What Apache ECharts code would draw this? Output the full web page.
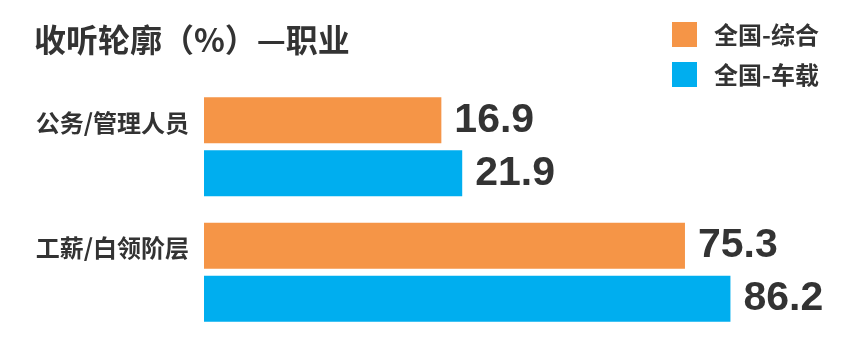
<!DOCTYPE html>
<html>
<head>
<meta charset="utf-8">
<script src="https://cdn.jsdelivr.net/npm/echarts@6/dist/echarts.min.js"></script>
<style>
html,body{margin:0;padding:0;background:#fff;}
#c{width:852px;height:337px;}
</style>
</head>
<body>
<div id="c"></div>
<script>
var titleText = '收听轮廓（%）—职业';
var categories = ['公务/管理人员', '工薪/白领阶层'];
var seriesNames = ['全国-综合', '全国-车载'];
var valuesZonghe = [16.9, 75.3];
var valuesChezai = [21.9, 86.2];
var colors = ['#F59547', '#00AEEF'];

var chart = echarts.init(document.getElementById('c'), null, {renderer: 'canvas'});
var labelStyle = {
  show: true,
  position: 'right',
  distance: 13,
  fontFamily: '"Liberation Sans", Arial, sans-serif',
  fontWeight: 'bold',
  fontSize: 41,
  color: '#333333'
};
chart.setOption({
  backgroundColor: '#ffffff',
  animation: false,
  title: {
    text: titleText,
    left: 29,
    top: 19,
    textStyle: {
      fontFamily: '"Noto Sans CJK SC", sans-serif',
      fontWeight: 'bold',
      fontSize: 32,
      color: '#333333'
    }
  },
  legend: {
    orient: 'vertical',
    left: 667,
    top: 17,
    itemWidth: 25,
    itemHeight: 25,
    itemGap: 15,
    icon: 'rect',
    data: seriesNames,
    textStyle: {
      fontFamily: '"Noto Sans CJK SC", sans-serif',
      fontWeight: 'bold',
      fontSize: 24,
      color: '#333333',
      padding: [0, 0, 0, 12]
    }
  },
  grid: {
    left: 204,
    right: 64,
    top: 84,
    height: 251,
    containLabel: false,
    outerBoundsMode: 'none'
  },
  xAxis: {
    type: 'value',
    min: -40,
    max: 100,
    startValue: -40,
    show: false
  },
  yAxis: {
    type: 'category',
    data: categories,
    inverse: true,
    axisLine: {show: false},
    axisTick: {show: false},
    splitLine: {show: false},
    axisLabel: {
      margin: 15,
      formatter: function (v) { return '{t|' + v + '}\n{s|}'; },
      rich: {
        t: {
          fontFamily: '"Noto Sans CJK SC", sans-serif',
          fontWeight: 'bold',
          fontSize: 24,
          lineHeight: 26,
          color: '#333333'
        },
        s: {
          height: 48,
          lineHeight: 48
        }
      }
    }
  },
  series: [
    {
      name: seriesNames[0],
      type: 'bar',
      data: valuesZonghe,
      barWidth: 46,
      barGap: '15%',
      itemStyle: {color: colors[0]},
      label: labelStyle
    },
    {
      name: seriesNames[1],
      type: 'bar',
      data: valuesChezai,
      barWidth: 46,
      barGap: '15%',
      itemStyle: {color: colors[1]},
      label: labelStyle
    }
  ]
});
</script>
</body>
</html>
